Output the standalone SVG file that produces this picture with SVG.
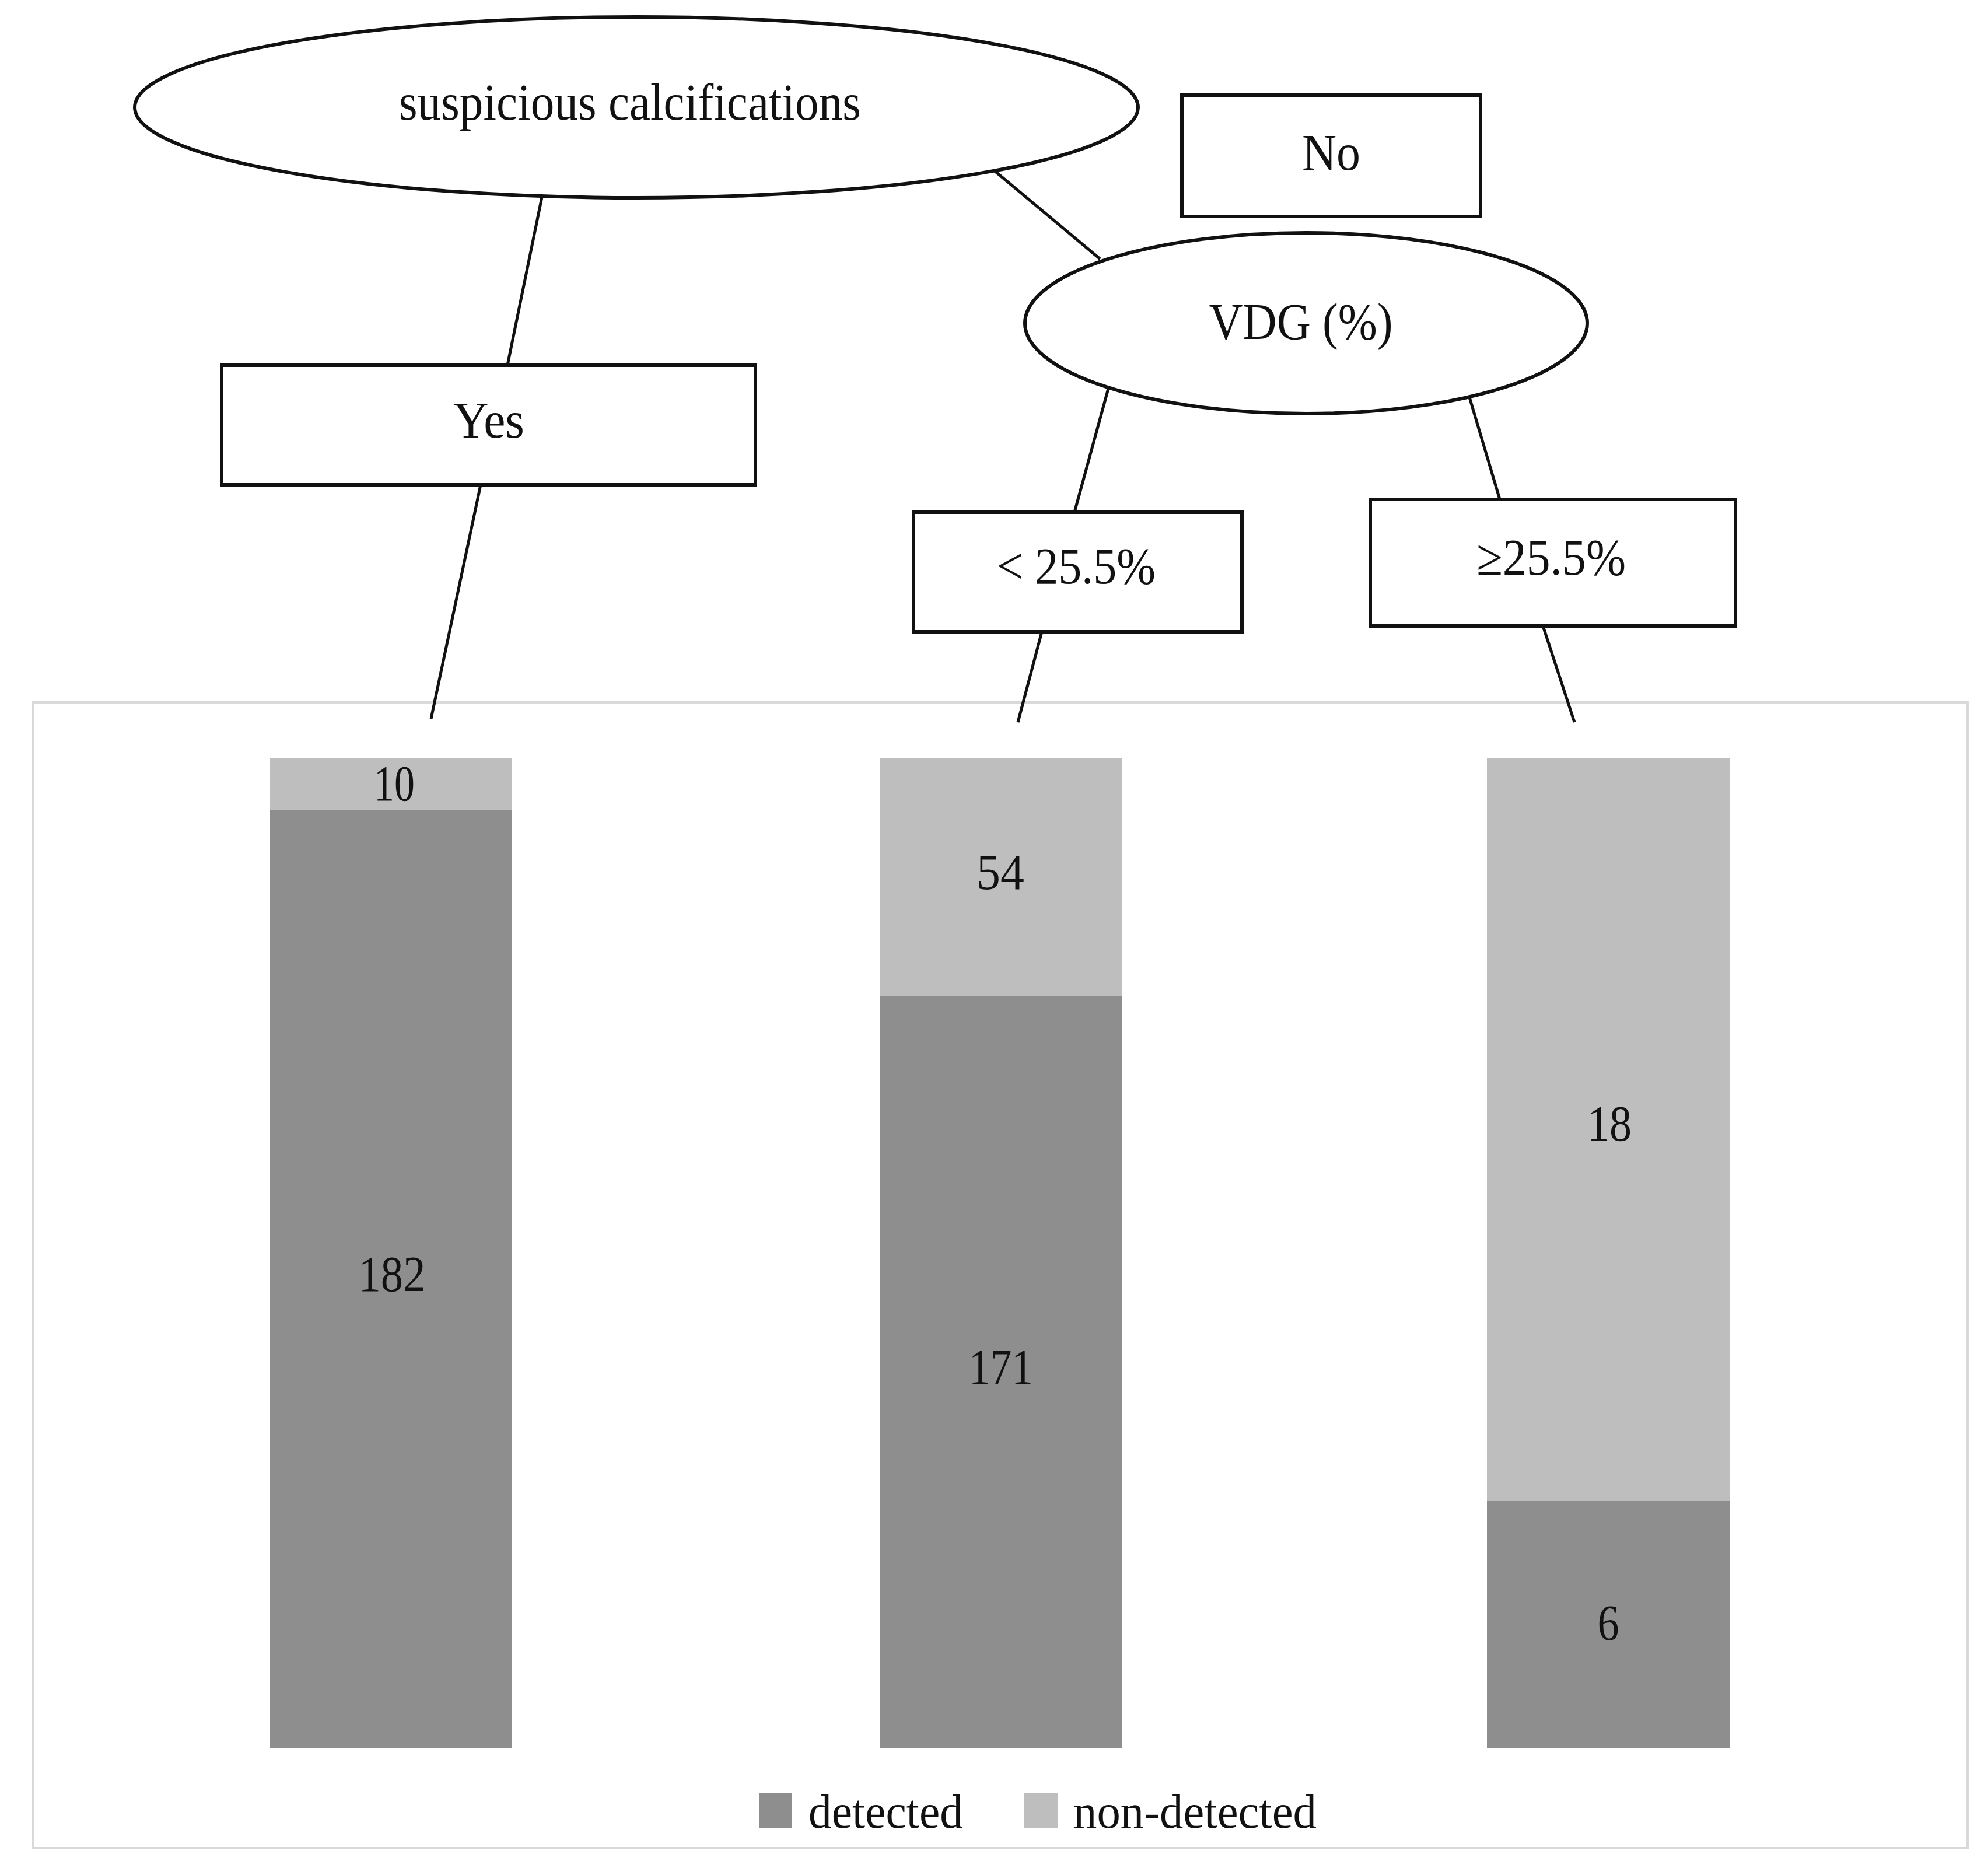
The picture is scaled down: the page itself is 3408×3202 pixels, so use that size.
<svg xmlns="http://www.w3.org/2000/svg" width="3408" height="3202" viewBox="0 0 3408 3202">
<style>
.node{fill:#fff;stroke:#111;stroke-width:6}
.t{font-family:"Liberation Serif","Times New Roman",serif;fill:#111;text-anchor:middle;font-size:88px}
.n{font-family:"Liberation Serif","Times New Roman",serif;fill:#111;text-anchor:middle;font-size:86px}
.lg{font-family:"Liberation Serif","Times New Roman",serif;fill:#111;font-size:82px}
.conn line{stroke:#111;stroke-width:5;fill:none}
.dark{fill:#8e8e8e}
.light{fill:#bebebe}
</style>
<rect width="3408" height="3202" fill="#fff"/>
<g id="chart-frame">
<rect x="56" y="1204" width="3317" height="1964" fill="#fff" stroke="#d9d9d9" stroke-width="4"/>
</g>
<g class="conn" id="connectors">
<line x1="929" y1="338" x2="870" y2="626"/>
<line x1="1704" y1="292" x2="1886" y2="444"/>
<line x1="824" y1="831" x2="739" y2="1232"/>
<line x1="1900" y1="666" x2="1842" y2="878"/>
<line x1="1786" y1="1083" x2="1745" y2="1238"/>
<line x1="2519" y1="681" x2="2571" y2="856"/>
<line x1="2645" y1="1073" x2="2699" y2="1238"/>
</g>
<g id="node-calc">
<ellipse class="node" cx="1091" cy="184" rx="860" ry="155"/>
<text class="t" x="1080" y="205" textLength="792" lengthAdjust="spacingAndGlyphs">suspicious calcifications</text>
</g>
<g id="node-no">
<rect class="node" x="2026" y="163" width="512" height="208"/>
<text class="t" x="2282" y="291" textLength="100" lengthAdjust="spacingAndGlyphs">No</text>
</g>
<g id="node-vdg">
<ellipse class="node" cx="2239" cy="554" rx="482" ry="155"/>
<text class="t" x="2230" y="581" textLength="315" lengthAdjust="spacingAndGlyphs">VDG (%)</text>
</g>
<g id="node-yes">
<rect class="node" x="380" y="626" width="915" height="205"/>
<text class="t" x="838" y="750" textLength="122" lengthAdjust="spacingAndGlyphs">Yes</text>
</g>
<g id="node-lt">
<rect class="node" x="1566" y="878" width="563" height="205"/>
<text class="t" x="1845" y="1000" textLength="272" lengthAdjust="spacingAndGlyphs">&lt; 25.5%</text>
</g>
<g id="node-ge">
<rect class="node" x="2349" y="856" width="626" height="217"/>
<text class="t" x="2659" y="985" textLength="256" lengthAdjust="spacingAndGlyphs">≥25.5%</text>
</g>
<g id="bar-yes">
<rect class="light" x="463" y="1300" width="415" height="88"/>
<rect class="dark" x="463" y="1388" width="415" height="1609"/>
<text class="n" x="676" y="1372" textLength="70" lengthAdjust="spacingAndGlyphs">10</text>
<text class="n" x="672" y="2213" textLength="115" lengthAdjust="spacingAndGlyphs">182</text>
</g>
<g id="bar-lt">
<rect class="light" x="1508" y="1300" width="416" height="407"/>
<rect class="dark" x="1508" y="1707" width="416" height="1290"/>
<text class="n" x="1715" y="1524" textLength="82" lengthAdjust="spacingAndGlyphs">54</text>
<text class="n" x="1716" y="2372" textLength="110" lengthAdjust="spacingAndGlyphs">171</text>
</g>
<g id="bar-ge">
<rect class="light" x="2549" y="1300" width="416" height="1273"/>
<rect class="dark" x="2549" y="2573" width="416" height="424"/>
<text class="n" x="2759" y="1955" textLength="76" lengthAdjust="spacingAndGlyphs">18</text>
<text class="n" x="2757" y="2811" textLength="37" lengthAdjust="spacingAndGlyphs">6</text>
</g>
<g id="legend">
<rect class="dark" x="1301" y="3073" width="57" height="61"/>
<text class="lg" x="1386" y="3133" textLength="265" lengthAdjust="spacingAndGlyphs">detected</text>
<rect class="light" x="1755" y="3073" width="58" height="61"/>
<text class="lg" x="1840" y="3133" textLength="417" lengthAdjust="spacingAndGlyphs">non-detected</text>
</g>
</svg>
